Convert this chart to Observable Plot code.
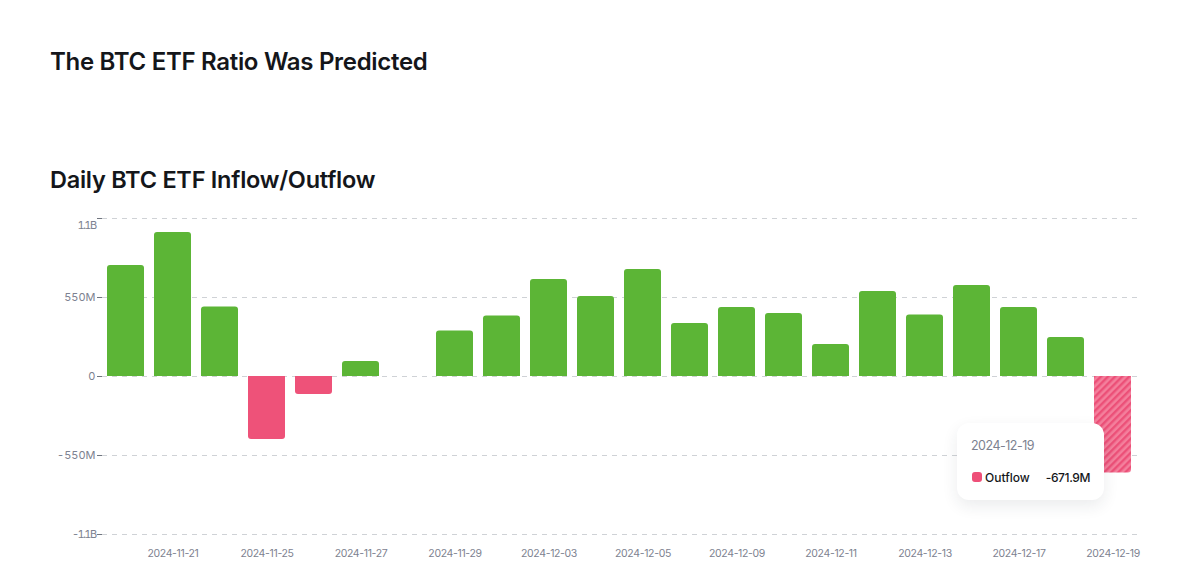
<!DOCTYPE html>
<html>
<head>
<meta charset="utf-8">
<script src="https://cdn.jsdelivr.net/npm/d3@7"></script>
<script src="https://cdn.jsdelivr.net/npm/@observablehq/plot@0.6"></script>
<style>
html,body{margin:0;padding:0;background:#fff;overflow:hidden;width:1200px;height:588px;font-family:Inter,sans-serif;color:#14161a}
#page{position:relative;width:1200px;height:588px}
h1,h2{position:absolute;left:50px;margin:0;line-height:30px;font-weight:600;white-space:nowrap}
h1{top:47px;font-size:24px;letter-spacing:-.3px}
h2{top:165px;font-size:23.5px;letter-spacing:-.25px}
#chart{position:absolute;left:0;top:196px}
#chart svg{display:block}
#chart g[aria-label="x-axis tick label"]{letter-spacing:-.35px}
#tip{position:absolute;left:957px;top:423px;width:147px;height:77px;box-sizing:border-box;background:#fff;border-radius:12px;box-shadow:0 6px 16px rgba(30,40,60,.09)}
#tip .d{position:absolute;left:14px;top:14px;font-size:12.5px;line-height:17px;letter-spacing:-.5px;color:#7d8290}
#tip .s{position:absolute;left:14.5px;top:49px;width:10px;height:10px;border-radius:3px;background:#ee4f78}
#tip .n{position:absolute;left:28px;top:47px;font-size:12px;line-height:16px;font-weight:500}
#tip .v{position:absolute;right:14px;top:47px;font-size:12px;line-height:16px;font-weight:500;letter-spacing:-.4px}
</style>
</head>
<body>
<div id="page">
<h1>The BTC ETF Ratio Was Predicted</h1>
<h2>Daily BTC ETF Inflow/Outflow</h2>
<div id="chart"></div>
<div id="tip"><div class="d">2024-12-19</div><div class="s"></div><div class="n">Outflow</div><div class="v">-671.9M</div></div>
</div>
<script>
const dates = ["2024-11-20","2024-11-21","2024-11-22","2024-11-25","2024-11-26","2024-11-27","2024-11-28","2024-11-29","2024-12-02","2024-12-03","2024-12-04","2024-12-05","2024-12-06","2024-12-09","2024-12-10","2024-12-11","2024-12-12","2024-12-13","2024-12-16","2024-12-17","2024-12-18","2024-12-19"];
const flows = [773,1002,484,-438,-125,105,0,317,421,675,557,745,369,480,439,223,592,428,634,481,272,-671.9];
const xLabels = ["2024-11-21","2024-11-25","2024-11-27","2024-11-29","2024-12-03","2024-12-05","2024-12-09","2024-12-11","2024-12-13","2024-12-17","2024-12-19"];
const yTicks = [1100,550,0,-550,-1100];
const highlighted = "2024-12-19";

const rows = dates.map((date,i)=>({date,value:flows[i]}));
const fmt = v => v===0 ? "0" : Math.abs(v)>=1000 ? (v/1000)+"B" : v+"M";
const GREEN="#5cb536", PINK="#ee5279";

const defs = () => {
  const s = d3.create("svg:defs");
  const p = s.append("pattern").attr("id","hatch").attr("patternUnits","userSpaceOnUse")
    .attr("width",5).attr("height",5).attr("patternTransform","rotate(45)");
  p.append("rect").attr("width",5).attr("height",5).attr("fill","#f47f9c");
  p.append("rect").attr("width",2.4).attr("height",5).attr("fill","#ec5078");
  return s.node();
};

const chart = Plot.plot({
  width:1200, height:392,
  marginLeft:102, marginRight:64, marginTop:22, marginBottom:54,
  style:{fontFamily:"Inter,sans-serif",fontSize:"11px",color:"#7d8290",background:"transparent"},
  x:{type:"band",domain:dates,paddingInner:10/47,paddingOuter:5/47,align:.5,round:false,label:null},
  y:{domain:[-1100,1100],label:null},
  marks:[
    defs,
    Plot.ruleY(yTicks,{stroke:"#cfd2d6",strokeDasharray:"5 5",strokeWidth:1,insetRight:-2}),
    Plot.axisY(yTicks.slice(1),{tickSize:5,tickPadding:2,tickFormat:fmt,stroke:"#70757f",label:null}),
    Plot.axisY([yTicks[0]],{tickSize:5,tickFormat:()=>"",stroke:"#70757f",label:null}),
    Plot.axisY([yTicks[0]],{tickSize:5,tickPadding:2,dy:7,tickFormat:fmt,stroke:"none",label:null}),
    Plot.axisX(xLabels,{tickSize:0,tickPadding:15,fontSize:10.5,label:null}),
    Plot.barY(rows.filter(d=>d.value>=0),{x:"date",y:"value",fill:GREEN,ry1:3}),
    Plot.barY(rows.filter(d=>d.value<0&&d.date!==highlighted),{x:"date",y:"value",fill:PINK,ry2:3}),
    Plot.barY(rows.filter(d=>d.date===highlighted),{x:"date",y:"value",fill:"url(#hatch)",ry2:3})
  ]
});
d3.select(chart).selectAll("text").filter(function(){return this.textContent.includes("1.1B");}).style("letter-spacing","-1.6px");
document.getElementById("chart").append(chart);
</script>
</body>
</html>
